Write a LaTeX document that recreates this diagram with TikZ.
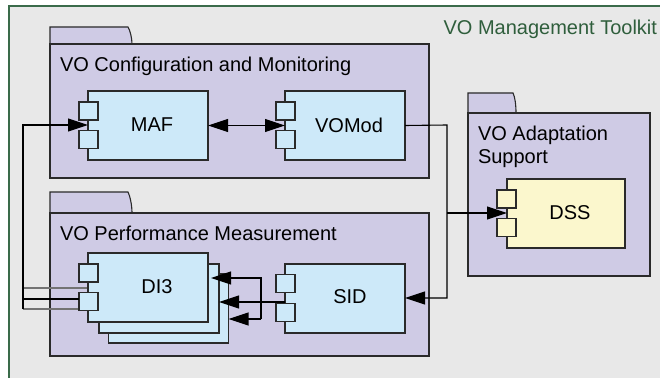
\documentclass[tikz,border=0pt]{standalone}
\usepackage{fontspec}
\setmainfont{Liberation Sans}
\usetikzlibrary{arrows.meta}
\definecolor{bgray}{HTML}{E8E8E8}
\definecolor{frameg}{HTML}{3A6B4A}
\definecolor{titleg}{HTML}{2F5E3C}
\definecolor{pkgfill}{HTML}{CFCBE5}
\definecolor{compblue}{HTML}{CDE9F9}
\definecolor{compyel}{HTML}{FBF7CD}
\definecolor{edge}{HTML}{2A2A2A}
\begin{document}
\begin{tikzpicture}[x=1pt,y=-1pt,
  every node/.style={font=\fontsize{20}{23.5}\selectfont, inner sep=0pt, outer sep=0pt},
  pkg/.style={draw=edge, fill=pkgfill, line width=1.1pt},
  comp/.style={draw=edge, fill=compblue, line width=1.1pt, minimum width=120pt, minimum height=69pt},
  ycomp/.style={comp, fill=compyel, minimum width=118pt},
  port/.style={draw=edge, fill=compblue, line width=1.1pt, minimum width=19pt, minimum height=18pt},
  yport/.style={port, fill=compyel},
  conn/.style={draw=black, line width=1.1pt},
  shconn/.style={draw=black!55, line width=1.1pt},
  tip/.style={-{Triangle[length=20pt,width=13pt]}},
  bitip/.style={{Triangle[length=20pt,width=13pt]}-{Triangle[length=20pt,width=13pt]}}
]
\useasboundingbox (0,0) rectangle (660,377);
% outer frame
\fill[white] (0,0) rectangle (660,377);
\path[fill=bgray] (9,6) rectangle (665,382);
\draw[frameg, line width=1.2pt] (9,382) -- (9,6) -- (665,6);
\node[text=titleg, anchor=east] (ttl) at (657,29) {VO Management Toolkit};

% package 1
\path[pkg] (50,44) -- (50,27) -- (128,27) .. controls (130,30) and (132,38) .. (132,44) -- cycle;
\path[pkg] (50,44) rectangle (429,178);
\node[anchor=west] (p1t) at (60,66) {VO Configuration and Monitoring};

% package 2
\path[pkg] (50,213) -- (50,192) -- (128,192) .. controls (130,196) and (132,205) .. (132,213) -- cycle;
\path[pkg] (50,213) rectangle (429,356);
\node[anchor=west] (p2t) at (60,233) {VO Performance Measurement};

% package 3
\path[pkg] (468,113) -- (468,93) -- (513,93) .. controls (515,97) and (516,105) .. (516,113) -- cycle;
\path[pkg] (468,113) rectangle (650,276);
\node[anchor=west, align=left] (p3t) at (478,147) {VO Adaptation\\[-0.5pt]Support};

% connector shadow lines (behind components)
\coordinate (lx1) at (23,288);
\coordinate (lx3) at (23,309);
\coordinate (d1in) at (88,288);
\coordinate (d3in) at (79,309);
\draw[shconn] (lx1) -- (d1in);
\draw[shconn] (lx3) -- (d3in);

% components
\node[comp] (maf) at (148,125.5) {};
\node (maft) at (152,125) {MAF};
\node[port] (mafp1) at (88.5,111) {};
\node[port] (mafp2) at (88.5,139.5) {};

\node[comp] (vomod) at (345,125.5) {};
\node (vomodt) at (349,125) {VOMod};
\node[port] (vomodp1) at (285.5,111) {};
\node[port] (vomodp2) at (285.5,139.5) {};

\node[ycomp] (dss) at (566,213.5) {};
\node (dsst) at (570,213) {DSS};
\node[yport] (dssp1) at (506.5,199) {};
\node[yport] (dssp2) at (506.5,227.5) {};

\node[comp] (sid) at (345,298.5) {};
\node (sidt) at (350,297) {SID};
\node[port] (sidp1) at (285.5,283.5) {};
\node[port] (sidp2) at (285.5,312.5) {};

\node[comp] (di3c) at (168.5,308.5) {};
\node[comp] (di3b) at (159,298.5) {};
\node[comp] (di3) at (148,287.5) {};
\node (di3t) at (157,287) {DI3};
\node[port] (di3p1) at (88.5,273) {};
\node[port] (di3p2) at (88.5,301.5) {};

% connectors
\draw[conn, bitip] (maf.east) -- (vomod.west);

\coordinate (vr) at (447,125);
\coordinate (vb) at (447,298);
\coordinate (vm) at (447,213);
\draw[conn, tip] (vomod.east) -- (vr) -- (vb) -- (sid.east |- vb);
\draw[conn, tip] (vm) -- (dss.west |- vm);

\coordinate (lt) at (23,125);
\coordinate (lb) at (23,309);
\coordinate (l2) at (23,299);
\draw[conn, tip] (lb) -- (lt) -- (maf.west |- lt);
\draw[conn] (l2) -- (di3p2.west |- l2);

\coordinate (sj) at (285,302);
\coordinate (sv1) at (261,278);
\coordinate (sv3) at (261,319);
\draw[conn, tip] (sj) -- (di3b.east |- sj);
\draw[conn, tip] (sv3) -- (sv1) -- (211,278);
\draw[conn, tip] (sv3) -- (di3c.east |- sv3);
\end{tikzpicture}
\end{document}
